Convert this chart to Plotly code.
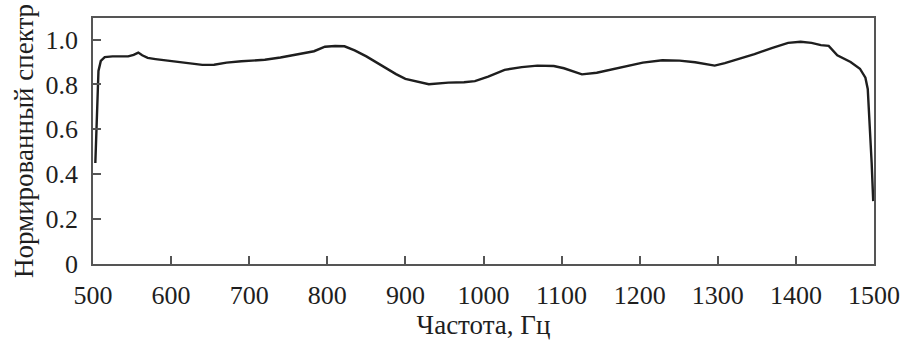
import plotly.graph_objects as go

freq = [503, 505, 507, 510, 515, 525, 535, 545, 552, 558, 563, 570, 580, 600, 620, 640,
        655, 671, 690, 705, 720, 740, 760, 783, 797, 810, 822, 835, 850, 859, 870, 888,
        900, 913, 930, 955, 975, 989, 1006, 1027, 1049, 1069, 1090, 1103, 1112, 1126,
        1145, 1175, 1204, 1229, 1251, 1271, 1285, 1296, 1309, 1331, 1347, 1369, 1390,
        1406, 1420, 1432, 1442, 1453, 1470, 1482, 1489, 1492, 1495, 1497, 1499]
spectrum = [0.45, 0.72, 0.86, 0.905, 0.922, 0.925, 0.924, 0.925, 0.932, 0.942, 0.93, 0.918,
            0.913, 0.905, 0.895, 0.887, 0.888, 0.897, 0.903, 0.905, 0.91, 0.92, 0.932, 0.948,
            0.968, 0.971, 0.97, 0.952, 0.925, 0.906, 0.882, 0.846, 0.825, 0.815, 0.801,
            0.808, 0.81, 0.815, 0.835, 0.865, 0.877, 0.884, 0.882, 0.872, 0.862, 0.845,
            0.852, 0.874, 0.897, 0.908, 0.906, 0.899, 0.892, 0.884, 0.895, 0.918, 0.935,
            0.962, 0.985, 0.99, 0.985, 0.975, 0.972, 0.93, 0.9, 0.87, 0.83, 0.78, 0.6,
            0.45, 0.28]

x_ticks = [500, 600, 700, 800, 900, 1000, 1100, 1200, 1300, 1400, 1500]
y_ticks = [0, 0.2, 0.4, 0.6, 0.8, 1.0]
y_tick_text = ["0", "0.2", "0.4", "0.6", "0.8", "1.0"]

font_family = "Liberation Serif, Times New Roman, serif"

fig = go.Figure()
fig.add_trace(go.Scatter(x=freq, y=spectrum, mode="lines",
                         line=dict(color="#1e1e1e", width=2.4), showlegend=False))

axis_common = dict(showline=True, mirror=True, linecolor="#555555", linewidth=1.5,
                   ticks="inside", ticklen=8, tickwidth=1.5, tickcolor="#555555",
                   showgrid=False, zeroline=False,
                   tickfont=dict(family=font_family, size=26, color="#1e1e1e"))

fig.update_layout(
    width=912, height=341,
    margin=dict(l=93, r=28, t=18, b=71),
    paper_bgcolor="white", plot_bgcolor="white",
    font=dict(family=font_family, color="#1e1e1e"),
    xaxis=dict(range=[500, 1500], tickvals=x_ticks, ticklabelstandoff=7,
               title=dict(text="Частота, Гц", font=dict(family=font_family, size=27),
                          standoff=0),
               **axis_common),
    yaxis=dict(range=[0, 1.096], tickvals=y_ticks, ticktext=y_tick_text,
               ticklabelstandoff=8,
               title=dict(text="Нормированный спектр", font=dict(family=font_family, size=27),
                          standoff=4),
               **axis_common),
)

fig.write_html("out.html")
